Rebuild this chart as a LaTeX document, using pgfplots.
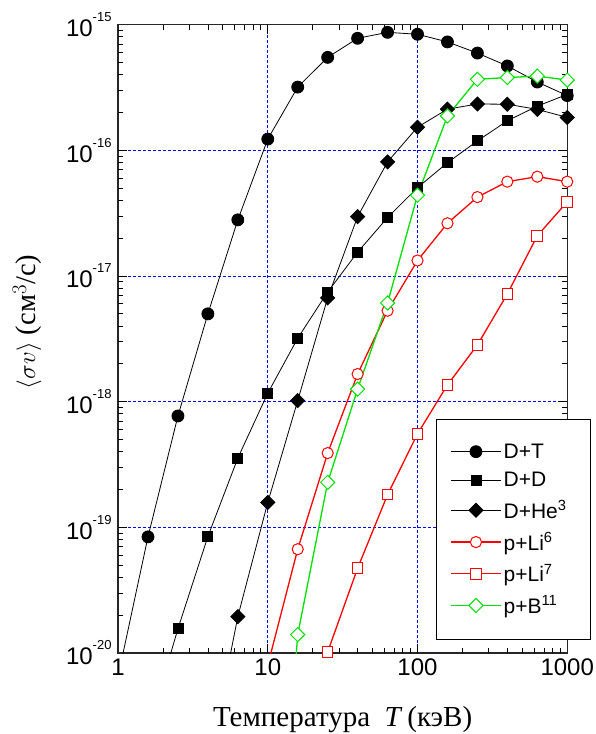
\documentclass[border=0pt]{standalone}
\usepackage{fontspec}
\setmainfont{Liberation Serif}
\newfontfamily\arial{Liberation Sans}
\usepackage{pgfplots}
\pgfplotsset{compat=1.18}
\definecolor{mygreen}{RGB}{0,225,0}
\newcommand{\tl}[1]{10\raisebox{15pt}{\fontsize{13}{13}\selectfont #1}}
\begin{document}
\begin{tikzpicture}
\begin{axis}[
 at={(0pt,0pt)}, anchor=south west,
 scale only axis, width=449pt, height=628pt,
 xmode=log, ymode=log, xmin=1, xmax=1000, ymin=1e-20, ymax=1e-15,
 xtick={1,10,100,1000}, xticklabels={1,10,100,1000},
 ytick={1e-20,1e-19,1e-18,1e-17,1e-16,1e-15},
 yticklabels={\tl{-20},\tl{-19},\tl{-18},\tl{-17},\tl{-16},\tl{-15}},
 ticklabel style={font=\arial\fontsize{24}{26}\selectfont},
 xticklabel style={yshift=-2pt},
 yticklabel style={xshift=-3pt},
 tick align=inside, tick pos=both,
 major tick length=9pt, minor tick length=5pt,
 tick style={draw=black, line width=1pt, solid},
 grid=major,
 major grid style={draw=blue, dash pattern=on 3pt off 2pt, line width=0.7pt},
 axis line style={line width=1.2pt, black!85},
 xlabel={Температура\ \ \textit{T}\,(кэВ)},
 xlabel style={font=\fontsize{29}{31}\selectfont, at={(axis description cs:0.5,-0.1162)}, anchor=base},
 ylabel={$\langle\sigma v\rangle$\ (см$^3$/с)},
 ylabel style={font=\fontsize{28.5}{30}\selectfont, at={(axis description cs:-0.2027,0.527)}, anchor=center},
 legend style={at={(0.7076,0.372)}, anchor=north west, draw=black, line width=0.8pt, fill=white,
   font=\arial\fontsize{21}{23}\selectfont, inner xsep=14pt, inner ysep=22pt,
   row sep=8.5pt, cells={anchor=west}},
 legend cell align=left,
 legend image code/.code={\draw[mark repeat=2, mark phase=2, #1] plot coordinates {(0pt,0pt)(25pt,0pt)(50pt,0pt)};},
]
\pgfplotsinvokeforeach{2,3,4,5,6,7,8,9,20,30,40,50,60,70,80,90,200,300,400,500,600,700,800,900}{
 \draw[black, line width=1pt] (axis cs:#1,1e-20) -- ++(0pt,5pt);
 \draw[black, line width=1pt] (axis cs:#1,1e-15) -- ++(0pt,-5pt);
}
\pgfplotsinvokeforeach{10,100}{
 \draw[black, line width=1pt] (axis cs:#1,1e-20) -- ++(0pt,9pt);
 \draw[black, line width=1pt] (axis cs:#1,1e-15) -- ++(0pt,-9pt);
}
\pgfplotsinvokeforeach{2e-20,3e-20,4e-20,5e-20,6e-20,7e-20,8e-20,9e-20,2e-19,3e-19,4e-19,5e-19,6e-19,7e-19,8e-19,9e-19,2e-18,3e-18,4e-18,5e-18,6e-18,7e-18,8e-18,9e-18,2e-17,3e-17,4e-17,5e-17,6e-17,7e-17,8e-17,9e-17,2e-16,3e-16,4e-16,5e-16,6e-16,7e-16,8e-16,9e-16}{
 \draw[black, line width=1pt] (axis cs:1,#1) -- ++(5pt,0pt);
 \draw[black, line width=1pt] (axis cs:1000,#1) -- ++(-5pt,0pt);
}
\pgfplotsinvokeforeach{1e-19,1e-18,1e-17,1e-16}{
 \draw[black, line width=1pt] (axis cs:1,#1) -- ++(9pt,0pt);
 \draw[black, line width=1pt] (axis cs:1000,#1) -- ++(-9pt,0pt);
}
\addplot[black, line width=0.8pt, mark=*, mark size=6pt, mark options={solid}] coordinates {
(1,6.5e-21)(1.585,8.4e-20)(2.512,7.7e-19)(3.981,5.0e-18)(6.31,2.8e-17)(10,1.23e-16)(15.85,3.19e-16)(25.12,5.5e-16)(39.81,7.8e-16)(63.1,8.7e-16)(100,8.4e-16)(158.5,7.3e-16)(251.2,5.95e-16)(398.1,4.7e-16)(631,3.5e-16)(1000,2.73e-16)};
\addlegendentry{D+T}
\addplot[black, line width=0.8pt, mark=square*, mark size=5pt] coordinates {
(1.585,2.4e-21)(2.512,1.56e-20)(3.981,8.45e-20)(6.31,3.56e-19)(10,1.17e-18)(15.85,3.2e-18)(25.12,7.46e-18)(39.81,1.55e-17)(63.1,2.92e-17)(100,5.05e-17)(158.5,7.98e-17)(251.2,1.19e-16)(398.1,1.72e-16)(631,2.25e-16)(1000,2.79e-16)};
\addlegendentry{D+D}
\addplot[black, line width=0.8pt, mark=square*, mark size=5pt, mark options={rotate=45}] coordinates {
(3.981,1.2e-21)(6.31,1.95e-20)(10,1.58e-19)(15.85,1.02e-18)(25.12,6.7e-18)(39.81,2.97e-17)(63.1,8.1e-17)(100,1.53e-16)(158.5,2.13e-16)(251.2,2.34e-16)(398.1,2.33e-16)(631,2.12e-16)(1000,1.83e-16)};
\addlegendentry{D+He\textsuperscript{3}\hspace*{8pt}}
\addplot[red, line width=1.3pt, mark=*, mark size=5.6pt, mark options={fill=white, line width=1pt}] coordinates {
(10,8e-21)(15.85,6.7e-20)(25.12,3.9e-19)(39.81,1.66e-18)(63.1,5.3e-18)(100,1.33e-17)(158.5,2.63e-17)(251.2,4.25e-17)(398.1,5.64e-17)(631,6.18e-17)(1000,5.64e-17)};
\addlegendentry{p+Li\textsuperscript{6}}
\addplot[red, line width=1.3pt, mark=square*, mark size=5.3pt, mark options={fill=white, line width=1pt}] coordinates {
(25.12,1.02e-20)(39.81,4.73e-20)(63.1,1.82e-19)(100,5.55e-19)(158.5,1.36e-18)(251.2,2.83e-18)(398.1,7.2e-18)(631,2.09e-17)(1000,3.9e-17)};
\addlegendentry{p+Li\textsuperscript{7}}
\addplot[mygreen, line width=1.3pt, mark=square*, mark size=5pt, mark options={fill=white, line width=1pt, rotate=45}] coordinates {
(10,1e-23)(15.85,1.4e-20)(25.12,2.28e-19)(39.81,1.26e-18)(63.1,6.1e-18)(100,4.4e-17)(158.5,1.88e-16)(251.2,3.68e-16)(398.1,3.8e-16)(631,3.9e-16)(1000,3.63e-16)};
\addlegendentry{p+B\textsuperscript{11}}
\end{axis}
\pgfresetboundingbox
\path[use as bounding box] (-118pt,-81pt) rectangle (477pt,652.7pt);
\end{tikzpicture}
\end{document}
